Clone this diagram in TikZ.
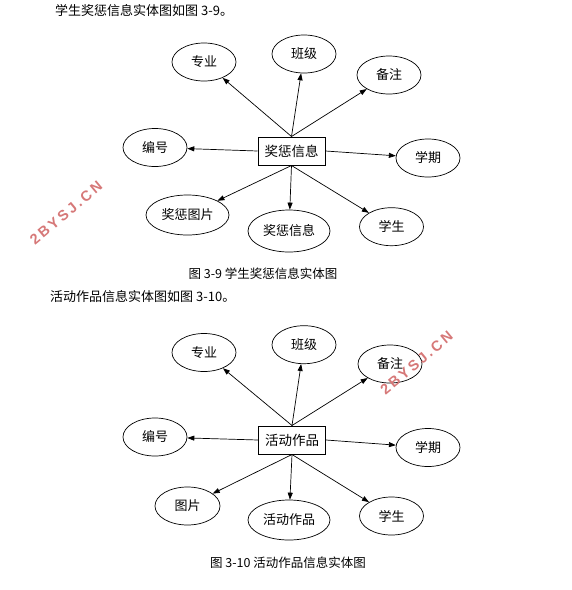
\documentclass[tikz,border=0pt]{standalone}
\usepackage{fontspec}
\setmainfont{Noto Sans CJK SC}
\newfontfamily\wmfont[LetterSpace=18]{Liberation Sans}
\usetikzlibrary{shapes.geometric,arrows.meta}
\definecolor{wmred}{RGB}{214,120,120}
\tikzset{
  attr/.style={draw, ellipse, line width=0.7pt, inner sep=0pt, minimum width=64pt, minimum height=38pt, font=\fontsize{13}{15}\selectfont},
  ent/.style={draw, rectangle, line width=1pt, inner sep=0pt, minimum width=67pt, minimum height=28pt, font=\fontsize{13.5}{15}\selectfont},
  link/.style={line width=0.7pt, -{Triangle[length=7pt,width=5pt]}},
  para/.style={anchor=west, inner sep=0pt, font=\fontsize{13}{15}\selectfont},
  captext/.style={inner sep=0pt, font=\fontsize{12.5}{15}\selectfont},
  wm/.style={text=wmred, inner sep=0pt, font=\wmfont\bfseries\fontsize{14.5}{16}\selectfont, rotate=40}
}
\begin{document}
\begin{tikzpicture}[x=1pt,y=-1pt]
\useasboundingbox (0,0) rectangle (572,590);
% ---------- text ----------
\node[para] (t1) at (55,10.5) {学生奖惩信息实体图如图 3-9。};
\node[captext] (cap1) at (263,274) {图 3-9 学生奖惩信息实体图};
\node[para] (t2) at (50,297) {活动作品信息实体图如图 3-10。};
\node[captext] (cap2) at (288,563) {图 3-10 活动作品信息实体图};
% ---------- diagram 1 ----------
\node[ent] (e1) at (291.5,151) {奖惩信息};
\node[attr] (a1) at (204,62) {专业};
\node[attr] (b1) at (304,54) {班级};
\node[attr] (c1) at (389,75) {备注};
\node[attr] (d1) at (155,147.5) {编号};
\node[attr] (f1) at (428,158) {学期};
\node[attr, minimum width=83pt, minimum height=40pt] (g1) at (187.5,215) {奖惩图片};
\node[attr, minimum width=82pt, minimum height=42pt] (h1) at (289,231) {奖惩信息};
\node[attr] (i1) at (391.5,226.7) {学生};
\draw[link] (e1.north) -- (a1);
\draw[link] (e1.north) -- (b1);
\draw[link] (e1.north) -- (c1);
\draw[link] (e1.west) -- (d1);
\draw[link] (e1.east) -- (f1);
\draw[link] (e1.south) -- (g1);
\draw[link] (e1.south) -- (h1);
\draw[link] (e1.south) -- (i1);
% ---------- diagram 2 ----------
\node[ent] (e2) at (292,440) {活动作品};
\node[attr] (a2) at (204,352.5) {专业};
\node[attr] (b2) at (304,344.7) {班级};
\node[attr] (c2) at (390,364) {备注};
\node[attr] (d2) at (155,437) {编号};
\node[attr] (f2) at (428,447.5) {学期};
\node[attr, minimum width=65pt, minimum height=38pt] (g2) at (187.5,506) {图片};
\node[attr, minimum width=82pt, minimum height=40pt] (h2) at (289,520) {活动作品};
\node[attr] (i2) at (391.5,516) {学生};
\draw[link] (e2.north) -- (a2);
\draw[link] (e2.north) -- (b2);
\draw[link] (e2.north) -- (c2);
\draw[link] (e2.west) -- (d2);
\draw[link] (e2.east) -- (f2);
\draw[link] (e2.south) -- (g2);
\draw[link] (e2.south) -- (h2);
\draw[link] (e2.south) -- (i2);
% ---------- watermarks ----------
\node[wm] (w1) at (66,213) {2BYSJ.CN};
\node[wm] (w2) at (416.5,363) {2BYSJ.CN};
\end{tikzpicture}
\end{document}
